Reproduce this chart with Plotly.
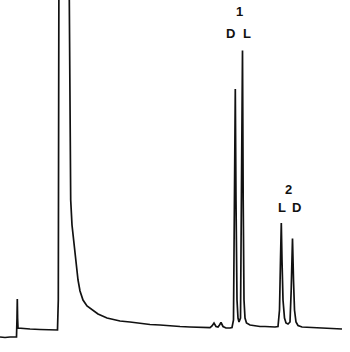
import plotly.graph_objects as go

# Retention time (min) and detector signal (a.u.)
time = [0.0, 0.5, 1.0, 1.65, 1.70, 1.73, 1.76, 1.80, 2.2, 3.0, 4.0, 5.0, 5.75, 5.83,
        5.90, 6.0, 6.8, 6.93, 6.98, 7.03, 7.07, 7.2, 7.35, 7.5, 7.65, 7.8, 8.0, 8.3,
        8.7, 9.2, 9.8, 10.7, 11.5, 12.0, 13.0, 14.0, 15.0, 16.0, 17.0, 18.0, 19.0,
        20.0, 21.0, 21.2, 21.4, 21.6, 21.8, 21.95, 22.1, 22.3, 22.6, 23.0, 23.2,
        23.35, 23.45, 23.53, 23.6, 23.7, 23.8, 23.9, 24.05, 24.15, 24.25, 24.32,
        24.4, 24.5, 24.65, 25.0, 25.5, 26.0, 26.5, 27.0, 27.5, 27.8, 27.95, 28.05,
        28.13, 28.2, 28.3, 28.45, 28.6, 28.8, 29.0, 29.12, 29.25, 29.35, 29.45,
        29.6, 29.8, 30.2, 31.0, 32.0, 33.0, 34.2]
signal = [15, 14.5, 15, 15, 34, 53, 34, 24, 23.5, 23, 22.5, 22, 22, 52,
          420, 420, 420, 352, 252, 192, 152, 127, 112, 102, 86, 72, 61, 52,
          46, 42, 38, 34, 32, 31, 30, 28.5, 27.5, 27, 26, 25.5, 25,
          24.5, 24.3, 26, 29, 25.5, 25, 27, 29.5, 25.5, 24, 24, 24.5,
          32, 152, 263, 152, 52, 34, 30, 34, 152, 301.5, 152,
          52, 34, 29, 27, 26, 25.5, 25.5, 25, 25, 25.5, 42, 92,
          129, 92, 52, 34, 29, 28, 30, 62, 113.5, 72, 42,
          30, 26.5, 25, 24.5, 24, 23.5, 23]

# Peak labels
label_text = ["1", "D", "L", "2", "L", "D"]
label_time = [23.9, 23.05, 24.67, 28.8, 28.2, 29.63]
label_signal = [341, 319, 319, 163, 145, 145]

fig = go.Figure()
fig.add_trace(go.Scatter(x=time, y=signal, mode="lines",
                         line=dict(color="#111111", width=1.7),
                         hoverinfo="skip", showlegend=False))

for t, xv, yv in zip(label_text, label_time, label_signal):
    fig.add_annotation(x=xv, y=yv, xref="x", yref="y", text=f"<b>{t}</b>",
                       showarrow=False, xanchor="center", yanchor="middle",
                       font=dict(family="Liberation Sans, Arial", size=13, color="#111111"))

fig.update_layout(width=350, height=352, margin=dict(l=0, r=0, t=0, b=0),
                  paper_bgcolor="white", plot_bgcolor="white",
                  xaxis=dict(range=[0, 35], visible=False, fixedrange=True),
                  yaxis=dict(range=[0, 352], visible=False, fixedrange=True))

fig.write_html("out.html")
